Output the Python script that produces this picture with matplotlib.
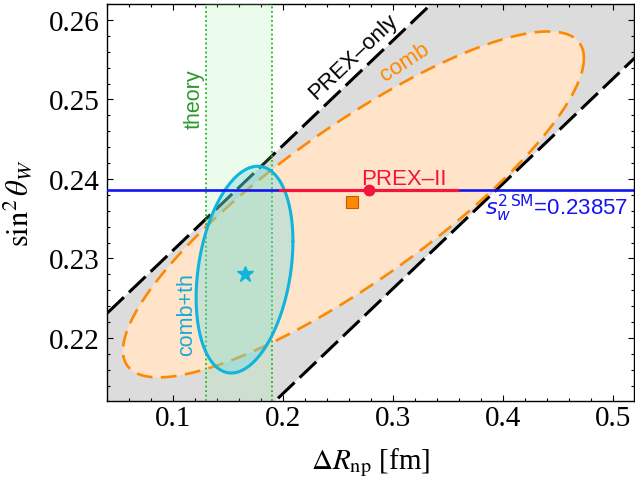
import numpy as np
import matplotlib.pyplot as plt
from matplotlib.ticker import MultipleLocator

plt.rcParams['mathtext.fontset'] = 'stix'
plt.rcParams['font.family'] = ['Liberation Sans', 'DejaVu Sans']

# PREX-only band (straight band: centre line + vertical half width)
prex_slope = 0.132
prex_x0 = 0.193
prex_y0 = 0.2277
prex_halfwidth = 0.0156

# combined fit ellipse: centre, half widths, correlation
comb_center = [0.264, 0.2368]
comb_sigma = [0.2095, 0.02175]
comb_rho = 0.845
comb_best = [0.263, 0.2371]

# combined + theory ellipse
combth_center = [0.165, 0.2286]
combth_sigma = [0.044, 0.013]
combth_rho = 0.273
combth_best = [0.165, 0.228]

theory_range = [0.13, 0.19]
sw2_sm = 0.23857
prex2_drnp = 0.278
prex2_err = 0.0805

x_ticks = [0.1, 0.2, 0.3, 0.4, 0.5]
y_ticks = [0.22, 0.23, 0.24, 0.25, 0.26]


def ellipse(c, s, rho, n=500):
	t = np.linspace(0, 2*np.pi, n)
	cov = np.array([[s[0]**2, rho*s[0]*s[1]], [rho*s[0]*s[1], s[1]**2]])
	L = np.linalg.cholesky(cov)
	p = L @ np.vstack([np.cos(t), np.sin(t)])
	return c[0] + p[0], c[1] + p[1]


fig = plt.figure(figsize=(6.35, 4.81), dpi=100)
ax = fig.add_axes([107/635, 79/481, 527/635, 397/481])

# PREX-only band
xx = np.linspace(-0.1, 0.7, 20)
yc = prex_y0 + prex_slope*(xx - prex_x0)
ax.fill_between(xx, yc - prex_halfwidth, yc + prex_halfwidth, color='#dcdcdc', lw=0, zorder=1)
for sgn in [-1, 1]:
	ax.plot(xx, yc + sgn*prex_halfwidth, color='black', lw=2.2, dashes=(7.5, 2.3), zorder=3)

# comb ellipse
ex, ey = ellipse(comb_center, comb_sigma, comb_rho)
ax.fill(ex, ey, color='#ffe4c9', lw=0, zorder=2)
ax.plot(ex, ey, color='#ff8800', lw=1.9, dashes=(6, 3.2), zorder=3)

# theory band
ax.axvspan(theory_range[0], theory_range[1], color=(0.6, 0.95, 0.6), alpha=0.18, lw=0, zorder=4)
for xv in theory_range:
	ax.axvline(xv, color='#1cb81c', lw=1.3, ls=(0, (1, 1.5)), zorder=4)

# comb+th ellipse
cx, cy = ellipse(combth_center, combth_sigma, combth_rho)
ax.fill(cx, cy, color=(0.4, 0.85, 0.9), alpha=0.35, lw=0, zorder=5)
ax.plot(cx, cy, color='#10b4dc', lw=2.2, solid_joinstyle='round', solid_capstyle='round', zorder=6)

# SM value and PREX-II
ax.axhline(sw2_sm, color='#1414f0', lw=1.9, zorder=6)
ax.plot([prex2_drnp - prex2_err, prex2_drnp + prex2_err], [sw2_sm, sw2_sm], color='#f5143c', lw=2.3, zorder=7)
ax.plot(prex2_drnp, sw2_sm, 'o', color='#f5143c', ms=7.5, zorder=8)
ax.plot(comb_best[0], comb_best[1], 's', color='#ff8800', mec='#b86000', mew=0.8, ms=8, zorder=8)
ax.plot(combth_best[0], combth_best[1], '*', color='#10b4dc', ms=12, zorder=8)

# labels
ax.text(0.119, 0.2501, 'theory', color='#2a9a2a', fontsize=15.5, rotation=90, ha='center', va='center', zorder=9)
ax.text(0.1127, 0.2231, 'comb+th', color='#19aad8', fontsize=15.5, rotation=90, ha='center', va='center', zorder=9)
ax.text(0.2636, 0.2555, 'PREX\u2013only', color='black', fontsize=16, rotation=43.5, ha='center', va='center', zorder=9)
ax.text(0.311, 0.2548, 'comb', color='#ff8800', fontsize=16, rotation=33, ha='center', va='center', zorder=9)
ax.text(0.31, 0.2394, 'PREX\u2013II', color='#f5143c', fontsize=16, ha='center', va='baseline', zorder=9)
ax.text(0.3836, 0.2356, r'$s_w^{2\,\mathrm{SM}}$=0.23857', color='#1414f0', fontsize=16,
	ha='left', va='baseline', math_fontfamily='dejavusans', zorder=9)

ax.set_xlim(0.04, 0.519)
ax.set_ylim(0.21208, 0.2620)
ax.set_xticks(x_ticks)
ax.set_yticks(y_ticks)
ax.set_xticklabels(['%.1f' % v for v in x_ticks], family='Liberation Serif', fontsize=21)
ax.set_yticklabels(['%.2f' % v for v in y_ticks], family='Liberation Serif', fontsize=21)
ax.xaxis.set_minor_locator(MultipleLocator(0.02))
ax.yaxis.set_minor_locator(MultipleLocator(0.002))
ax.tick_params(which='both', direction='in', top=True, right=True, width=0.8)
ax.tick_params(which='major', length=4.3)
ax.tick_params(which='minor', length=2.5)
ax.tick_params(axis='x', pad=3)
ax.tick_params(axis='y', pad=5)
for sp in ax.spines.values():
	sp.set_linewidth(1.0)

ax.set_xlabel(r'$\Delta R_{\rm np}$ [fm]', fontsize=21, family='Liberation Serif')
ax.xaxis.set_label_coords(0.5, -0.112)
ax.set_ylabel(r'$\sin^2\theta_W$', fontsize=22, family='Liberation Serif')
ax.yaxis.set_label_coords(-0.137, 0.5)

fig.savefig('out.png', dpi=100)
